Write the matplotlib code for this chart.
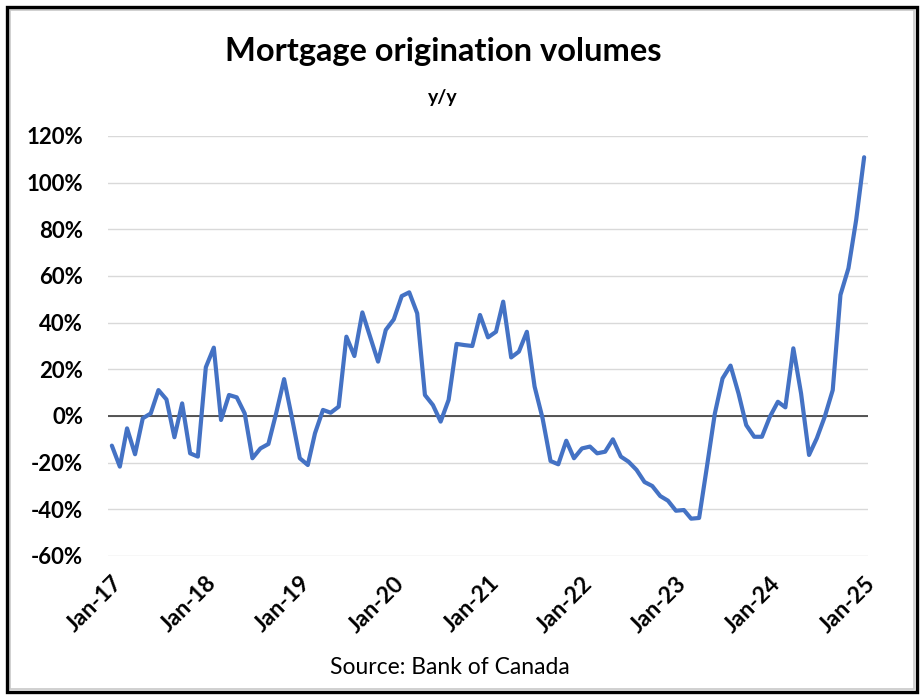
import matplotlib
matplotlib.use("Agg")
import matplotlib.pyplot as plt
import matplotlib.dates as mdates
from matplotlib.patches import Rectangle
from matplotlib.ticker import FuncFormatter
import pandas as pd
import numpy as np

plt.rcParams['font.family'] = ['Lato', 'DejaVu Sans']
plt.rcParams['ytick.major.pad'] = 18
plt.rcParams['ytick.major.size'] = 0
plt.rcParams['xtick.major.pad'] = 12
plt.rcParams['xtick.major.size'] = 0

start_month = "2017-01-01"
yoy_pct = [
    -12.7, -21.7, -5.3, -16.4, -1.0, 1.1, 11.1, 7.1, -9.1, 5.4, -16.0, -17.4,
    20.9, 29.3, -1.7, 9.0, 8.0, 1.1, -18.1, -13.9, -12.0, 1.1, 15.8, -0.5,
    -18.1, -21.0, -7.4, 2.6, 1.4, 4.0, 34.0, 25.7, 44.4, 34.0, 23.3, 36.9,
    41.4, 51.4, 53.0, 44.0, 9.0, 4.7, -2.4, 6.9, 30.9, 30.4, 30.0, 43.3,
    33.7, 36.1, 49.0, 25.1, 27.6, 36.1, 12.6, -1.0, -19.3, -20.7, -10.6, -18.1,
    -13.9, -13.1, -16.0, -15.3, -10.0, -17.4, -19.6, -23.1, -28.3, -30.0, -34.3, -36.3,
    -40.6, -40.3, -44.0, -43.7, -22.0, 1.0, 16.1, 21.6, 9.7, -3.9, -8.9, -8.9,
    -0.3, 6.1, 3.7, 29.0, 9.7, -16.7, -9.6, -0.3, 11.1, 51.9, 63.3, 84.0,
    110.9,
]
y_ticks = [-60, -40, -20, 0, 20, 40, 60, 80, 100, 120]
title = "Mortgage origination volumes"
subtitle = "y/y"
source = "Source: Bank of Canada"

dates = pd.date_range(start_month, periods=len(yoy_pct), freq="MS")

W, H = 922, 700
fig = plt.figure(figsize=(W / 100, H / 100), dpi=100)
fig.patch.set_facecolor("white")

ax = fig.add_axes([108 / W, 1 - 556 / H, (868 - 108) / W, (556 - 136) / H])
ax.plot(dates, yoy_pct, color="#4472C4", linewidth=3.0, solid_joinstyle="round",
        solid_capstyle="round", zorder=3)

ax.set_ylim(-60, 120)
ax.set_yticks(y_ticks)
ax.yaxis.set_major_formatter(FuncFormatter(lambda v, p: f"{int(v)}%"))
ax.grid(axis="y", color="#d9d9d9", linewidth=1.0, zorder=0)
ax.axhline(0, color="#3a3a3a", linewidth=1.2, zorder=2)

ax.set_xlim(dates[0] - pd.Timedelta(days=15), dates[-1] + pd.Timedelta(days=15))
ax.xaxis.set_major_locator(mdates.MonthLocator(bymonth=1))
ax.xaxis.set_major_formatter(mdates.DateFormatter("%b-%y"))

for s in ax.spines.values():
    s.set_visible(False)
ax.yaxis.set_tick_params(labelsize=16)
ax.xaxis.set_tick_params(labelsize=16.5)
for lbl in ax.get_yticklabels():
    lbl.set_fontweight("bold")
for lbl in ax.get_xticklabels():
    lbl.set_fontweight("bold")
    lbl.set_rotation(45)
    lbl.set_ha("right")
    lbl.set_rotation_mode("anchor")

fig.text(443 / W, 1 - 52 / H, title, ha="center", va="center", fontsize=23.5, fontweight="bold")
fig.text(443 / W, 1 - 97 / H, subtitle, ha="center", va="center", fontsize=14, fontweight="bold")
fig.text(450 / W, 1 - 667 / H, source, ha="center", va="center", fontsize=16.5)

fig.patches.append(Rectangle((10 / W, 1 - 689 / H), 904 / W, 679 / H, transform=fig.transFigure,
                             fill=False, edgecolor="#c8c8c8", linewidth=1.2))
fig.patches.append(Rectangle((7 / W, 1 - 692 / H), 910 / W, 685 / H, transform=fig.transFigure,
                             fill=False, edgecolor="black", linewidth=2.4))

fig.savefig("out.png", dpi=100, facecolor="white")
